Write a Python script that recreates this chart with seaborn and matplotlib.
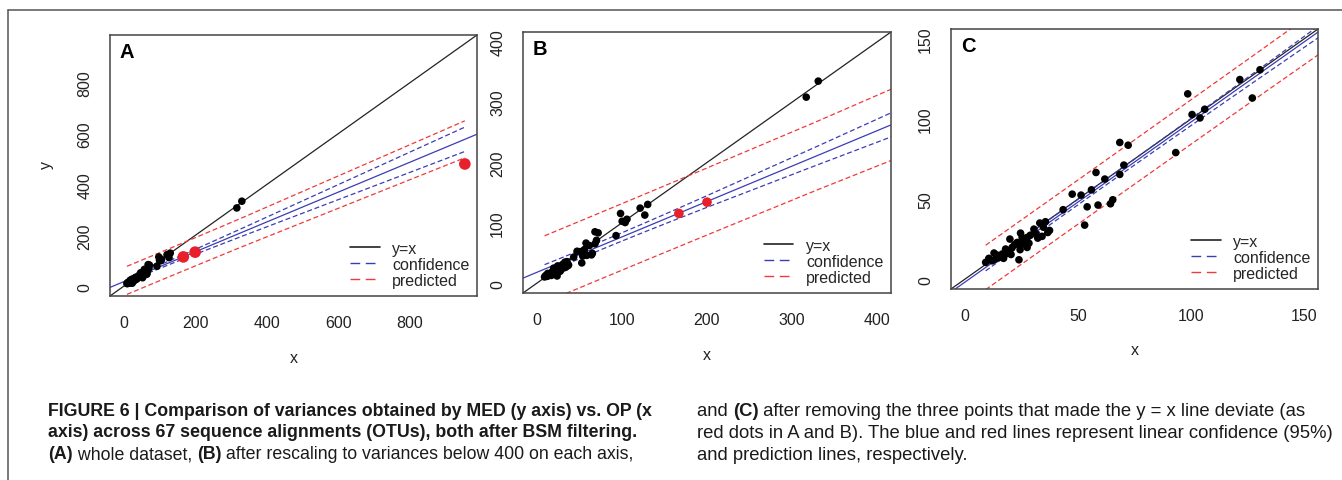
import matplotlib

matplotlib.use("Agg")

import matplotlib.pyplot as plt
from matplotlib.lines import Line2D
import numpy as np
import pandas as pd
import seaborn as sns


# variances per OTU: OP on x, MED on y (62 low-variance alignments)
otu_op = [
    130.4, 121.5, 127.0, 98.5, 100.4, 103.9, 106.0,
    93.2, 68.5, 72.2, 70.3, 68.5, 61.9, 58.0, 56.0, 51.4, 47.5, 54.1, 58.9,
    64.4, 65.4, 53.0, 43.5,
    35.7, 33.2, 36.7, 34.2, 32.3, 30.6, 24.7, 25.4, 27.6, 20.0, 23.2, 21.0,
    27.6, 24.7, 24.0, 18.1, 16.6, 17.2, 14.4, 13.0, 10.7, 9.3, 12.2, 15.1,
    29.0, 26.6, 22.0, 19.5, 11.5, 28.4, 31.5, 34.8, 15.8, 20.5, 26.0, 37.5,
    13.5, 18.5, 24.5,
]
otu_med = [
    130.6, 124.5, 113.0, 115.6, 102.7, 100.6, 106.0,
    79.0, 85.3, 83.6, 71.2, 65.4, 62.5, 66.6, 55.8, 52.5, 53.1, 45.2, 46.3,
    47.1, 49.6, 33.8, 43.4,
    35.9, 35.1, 29.2, 26.8, 25.7, 31.3, 28.8, 26.1, 26.1, 25.1, 23.0, 19.9,
    19.9, 21.0, 12.2, 18.9, 15.8, 13.1, 15.1, 16.4, 13.1, 10.6, 11.6, 13.7,
    27.5, 23.5, 21.5, 17.0, 12.0, 22.5, 28.5, 32.5, 14.5, 15.5, 24.8, 30.5,
    12.5, 16.0, 18.5,
]
# two high-variance OTUs lying on y = x
high_op = [316.5, 330.6]
high_med = [308.2, 334.7]
# the three OTUs removed for panel C (red dots)
red_op = [167.0, 200.0, 954.0]
red_med = [115.7, 134.4, 481.0]

panel_letters = ["A", "B", "C"]
panel_ranges = [[0, 950], [0, 400], [0, 150]]
panel_ticks = [[0, 200, 400, 600, 800], [0, 100, 200, 300, 400], [0, 50, 100, 150]]
legend_labels = ["y=x", "confidence", "predicted"]

T_975 = 1.997

W, H = 1342, 481
BLUE = "#3b3db4"
RED = "#f03a3a"
DOT_RED = "#e8202a"


def fit_bands(df):
    x = df["op"].to_numpy()
    y = df["med"].to_numpy()
    n = len(x)
    b1, b0 = np.polyfit(x, y, 1)
    res = y - (b0 + b1 * x)
    s = np.sqrt(np.sum(res ** 2) / (n - 2))
    xbar = x.mean()
    sxx = np.sum((x - xbar) ** 2)
    grid = np.sort(x)
    fit = b0 + b1 * grid
    se_c = s * np.sqrt(1 / n + (grid - xbar) ** 2 / sxx)
    se_p = s * np.sqrt(1 + 1 / n + (grid - xbar) ** 2 / sxx)
    return b0, b1, pd.DataFrame({
        "x": grid,
        "conf_lo": fit - T_975 * se_c, "conf_hi": fit + T_975 * se_c,
        "pred_lo": fit - T_975 * se_p, "pred_hi": fit + T_975 * se_p,
    })


def padded(lim):
    d = (lim[1] - lim[0]) * 0.04
    return lim[0] - d, lim[1] + d


def draw_panel(ax, black, red, fit_df, idx, red_size, show_ylabel):
    b0, b1, bands = fit_bands(fit_df)
    dash = (4, 2.2)
    ax.axline((0, 0), slope=1, color="#222222", lw=0.9, zorder=1)
    ax.axline((0, b0), slope=b1, color=BLUE, lw=0.9, zorder=1)
    for col in ["conf_lo", "conf_hi"]:
        ax.plot(bands["x"], bands[col], color=BLUE, lw=0.9, dashes=dash, zorder=1)
    for col in ["pred_lo", "pred_hi"]:
        ax.plot(bands["x"], bands[col], color=RED, lw=0.9, dashes=dash, zorder=1)

    sns.scatterplot(data=black, x="op", y="med", color="black", s=30,
                    edgecolor="none", legend=False, ax=ax, zorder=3)
    if red is not None:
        sns.scatterplot(data=red, x="op", y="med", color=DOT_RED, s=red_size,
                        edgecolor="none", legend=False, ax=ax, zorder=4)

    lim = padded(panel_ranges[idx])
    ax.set_xlim(lim)
    ax.set_ylim(lim)
    ax.set_xticks(panel_ticks[idx])
    ax.set_yticks(panel_ticks[idx])
    ax.set_xlabel("")
    ax.set_ylabel("")
    ax.tick_params(axis="both", direction="out", length=5.8, width=0.9,
                   color="#444444", labelsize=11.5, labelcolor="#222222")
    ax.tick_params(axis="x", pad=8)
    ax.tick_params(axis="y", pad=7)
    for lbl in ax.get_yticklabels():
        lbl.set_rotation(90)
        lbl.set_va("center")
    for sp in ax.spines.values():
        sp.set_visible(True)
        sp.set_color("#444444")
        sp.set_linewidth(1.1)

    ax.text(0.5, -0.234, "x", transform=ax.transAxes, ha="center", va="center",
            fontsize=11.5, color="#222222")
    if show_ylabel:
        ax.text(-0.172, 0.506, "y", transform=ax.transAxes, ha="center",
                va="center", rotation=90, fontsize=11.5, color="#222222")
    ax.text(0.046, 0.935, panel_letters[idx], transform=ax.transAxes, ha="center",
            va="center", fontsize=14.5, fontweight="bold", color="black")

    handles = [
        Line2D([], [], color="#222222", lw=1.2),
        Line2D([], [], color=BLUE, lw=1.0, dashes=(7, 4)),
        Line2D([], [], color=RED, lw=1.0, dashes=(7, 4)),
    ]
    ax.legend(handles, legend_labels, loc="lower right", bbox_to_anchor=(0.98, 0.032),
              frameon=False, fontsize=11.5, handlelength=1.85, handletextpad=0.8,
              labelspacing=0.05, borderpad=0, borderaxespad=0)


def draw_runs(fig, renderer, x0, y0, runs, size):
    x = x0
    for text, bold in runs:
        t = fig.text(x / W, 1 - y0 / H, text, fontsize=size, va="center", ha="left",
                     fontweight="bold" if bold else "normal", color="#1a1a1a",
                     family=["Liberation Sans Narrow", "Liberation Sans", "DejaVu Sans"])
        bb = t.get_window_extent(renderer)
        x = bb.x1


def main():
    sns.set_theme(style="white", context="notebook")
    plt.rcParams["font.family"] = ["Liberation Sans", "DejaVu Sans"]

    small = pd.DataFrame({"op": otu_op, "med": otu_med})
    high = pd.DataFrame({"op": high_op, "med": high_med})
    red = pd.DataFrame({"op": red_op, "med": red_med})
    black = pd.concat([small, high], ignore_index=True)
    everything = pd.concat([black, red], ignore_index=True)

    fig = plt.figure(figsize=(W / 100, H / 100), dpi=100)
    fig.patch.set_facecolor("white")
    boxes = [
        [110, 477, 36, 297],
        [523, 891, 33, 294],
        [951, 1318, 30, 290],
    ]
    axes = []
    for l, r, t, b in boxes:
        axes.append(fig.add_axes([l / W, 1 - b / H, (r - l) / W, (b - t) / H]))

    draw_panel(axes[0], black, red, everything, 0, 70, True)
    draw_panel(axes[1], black, red, everything, 1, 48, False)
    draw_panel(axes[2], black, None, black, 2, 0, False)

    # figure frame
    fig.add_artist(Line2D([8 / W, 8 / W], [0, 1 - 11 / H], transform=fig.transFigure,
                          color="#555555", lw=1.1))
    fig.add_artist(Line2D([8 / W, 1], [1 - 11 / H, 1 - 11 / H], transform=fig.transFigure,
                          color="#555555", lw=1.1))

    renderer = fig.canvas.get_renderer()
    left_size, right_size = 12.8, 13.3
    lx, rx = 48, 697
    draw_runs(fig, renderer, lx, 412, [
        ("FIGURE 6 | Comparison of variances obtained by MED (y axis) vs. OP (x", True)],
        left_size)
    draw_runs(fig, renderer, lx, 433, [
        ("axis) across 67 sequence alignments (OTUs), both after BSM filtering.", True)],
        left_size)
    draw_runs(fig, renderer, lx, 455, [
        ("(A)", True), (" whole dataset, ", False), ("(B)", True),
        (" after rescaling to variances below 400 on each axis,", False)], left_size)
    draw_runs(fig, renderer, rx, 412, [
        ("and ", False), ("(C)", True),
        (" after removing the three points that made the y = x line deviate (as", False)],
        right_size)
    draw_runs(fig, renderer, rx, 434, [
        ("red dots in A and B). The blue and red lines represent linear confidence (95%)", False)],
        right_size)
    draw_runs(fig, renderer, rx, 456, [("and prediction lines, respectively.", False)], right_size)

    fig.savefig("out.png", dpi=100)
    plt.close(fig)


if __name__ == "__main__":
    main()
